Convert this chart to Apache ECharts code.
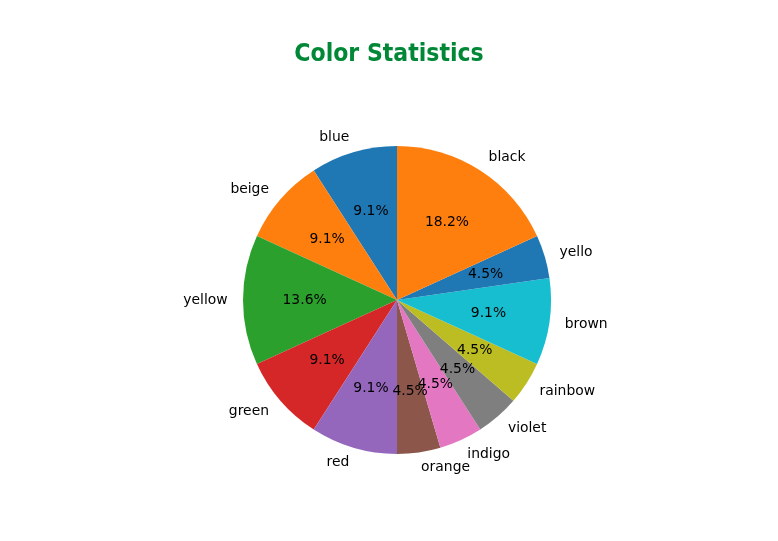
<!DOCTYPE html>
<html>
<head>
<meta charset="utf-8">
<script src="https://cdn.jsdelivr.net/npm/echarts@6/dist/echarts.min.js"></script>
<style>
html, body { margin: 0; padding: 0; background: #fff; }
#main { width: 778px; height: 541px; }
</style>
</head>
<body>
<div id="main"></div>
<script>
var categories = ['blue', 'beige', 'yellow', 'green', 'red', 'orange', 'indigo', 'violet', 'rainbow', 'brown', 'yello', 'black'];
var counts = [2, 2, 3, 2, 2, 1, 1, 1, 1, 2, 1, 4];
var sliceColors = ['#1f77b4', '#ff7f0e', '#2ca02c', '#d62728', '#9467bd', '#8c564b', '#e377c2', '#7f7f7f', '#bcbd22', '#17becf', '#1f77b4', '#ff7f0e'];

var total = 0;
for (let i = 0; i < counts.length; i++) total += counts[i];

var pieData = [];
var pctData = [];
for (let i = 0; i < categories.length; i++) {
    pieData.push({ name: categories[i], value: counts[i], itemStyle: { color: sliceColors[i] } });
    pctData.push({ name: categories[i], value: counts[i] });
}

var R = 154;
var myChart = echarts.init(document.getElementById('main'));

var option = {
    animation: false,
    title: {
        text: 'Color Statistics',
        left: 'center',
        top: 37,
        textStyle: {
            fontFamily: 'DejaVu Sans Condensed, DejaVu Sans',
            fontWeight: 'bold',
            fontSize: 24.5,
            color: '#008837'
        }
    },
    series: [
        {
            type: 'pie',
            center: [397, 300],
            radius: [0, R],
            startAngle: 90,
            clockwise: false,
            avoidLabelOverlap: false,
            minShowLabelAngle: 0,
            silent: true,
            itemStyle: { borderWidth: 0 },
            label: {
                show: true,
                position: 'outside',
                distanceToLabelLine: 0,
                padding: [2, 0, 0, 0],
                fontFamily: 'DejaVu Sans',
                fontSize: 13.9,
                color: '#000'
            },
            labelLine: { show: false, length: 15.4, length2: 0 },
            labelLayout: { hideOverlap: false },
            data: pieData
        },
        {
            // 透明的外圈，只用来放百分比
            type: 'pie',
            center: [397, 300],
            radius: [0, 2 * (0.6 * R - 3)],
            startAngle: 90,
            clockwise: false,
            avoidLabelOverlap: false,
            minShowLabelAngle: 0,
            silent: true,
            itemStyle: { color: 'rgba(0,0,0,0)', borderWidth: 0 },
            label: {
                show: true,
                position: 'inside',
                padding: [2, 0, 0, 0],
                fontFamily: 'DejaVu Sans',
                fontSize: 13.9,
                color: '#000',
                formatter: function (p) {
                    return (p.value / total * 100).toFixed(1) + '%';
                }
            },
            labelLine: { show: false },
            labelLayout: { hideOverlap: false },
            data: pctData
        }
    ]
};

myChart.setOption(option);
</script>
</body>
</html>
